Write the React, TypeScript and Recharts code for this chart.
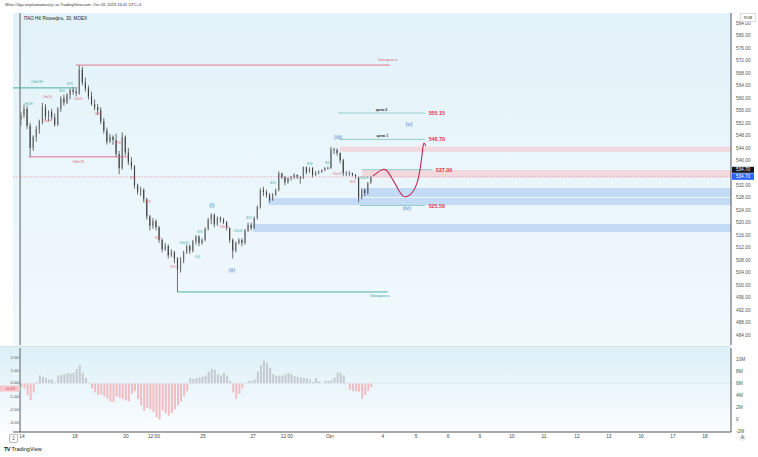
import React from "react";
import {
  ComposedChart,
  Bar,
  Line,
  XAxis,
  YAxis,
  ReferenceLine,
  ReferenceArea,
  ReferenceDot,
  Cell,
} from "recharts";

const FONT = '"Liberation Sans", Arial, sans-serif';
const TEAL = "#3aa89c";
const RED = "#e0697a";
const WAVE = "#4a7bd0";
const INK = "#4b4b4b";

// 30m candles, Sep 14 -> Oct 3 (o, h, l, c)
const CANDLES: [number, number, number, number][] = [
  [553, 555.5, 551, 554.5], [554.5, 557.8, 553.5, 556.5], [556.5, 557.5, 550, 551], [551, 552, 541, 544],
  [544, 548, 543, 547.5], [547.5, 551, 546, 550], [550, 553, 548.5, 552.5], [552.5, 558.4, 551.5, 557],
  [557, 558, 553, 554], [554, 556, 552.5, 555.5], [555.5, 556.5, 553, 553.8], [553.8, 555, 550.8, 551.5],
  [551.5, 557, 551, 556.5], [556.5, 560.5, 555.5, 559.8], [559.8, 561, 557.5, 558.5], [558.5, 561.5, 558, 561],
  [561, 563, 559.5, 562.5], [562.5, 563.5, 561, 562], [562, 563.5, 560.5, 561.5], [561.5, 570.5, 561, 569],
  [569, 570, 564, 565], [565, 566.5, 562, 563], [563, 564, 559.5, 560.5], [560.5, 562, 557.5, 558],
  [558, 559.5, 556, 557], [557, 558, 554.5, 556], [556, 557, 551.5, 552.5], [552.5, 553.5, 548.5, 549.5],
  [549.5, 550.5, 545, 546], [546, 548.5, 545.5, 547.5], [547.5, 548, 545, 546.5], [546.5, 548.5, 541, 542],
  [542, 543, 535.5, 537.5], [537.5, 549, 537, 547.5], [547.5, 548, 541.5, 542.5], [542.5, 544, 538.5, 539.5],
  [539.5, 541, 537, 538], [538, 538.5, 531, 532], [532, 532.5, 529, 530], [530, 531.5, 528.5, 530.5],
  [530.5, 531, 526.5, 527.5], [527.5, 528, 521, 522], [522, 522.5, 517.5, 519], [519, 521.5, 518, 520.5],
  [520.5, 521, 517.5, 518.5], [518.5, 519, 513.5, 514.5], [514.5, 515, 510.5, 511.5], [511.5, 513.5, 511, 512.5],
  [512.5, 513, 508.5, 509.5], [509.5, 511.5, 509, 510.5], [510.5, 511, 507, 508.5], [508.5, 509, 497.8, 505],
  [505, 509, 504, 508], [508, 511, 507, 510.5], [510.5, 513, 510, 512.5], [512.5, 513, 510, 511],
  [511, 514.5, 510.5, 514], [514, 516, 513, 515.5], [515.5, 516, 512.5, 513.5], [513.5, 515, 513, 514.5],
  [514.5, 518.5, 514, 518], [518, 521.5, 517.5, 521], [521, 523, 519.5, 522.5], [522.5, 523, 518.5, 519.5],
  [519.5, 522, 519, 521.5], [521.5, 522, 520, 521], [521, 521.5, 519.5, 520.2], [520.2, 520.5, 517.5, 518.3],
  [518.3, 518.5, 513.5, 514.5], [514.5, 515, 508.5, 511], [511, 514, 510.5, 513.5], [513.5, 515, 513, 514.4],
  [514.4, 515, 512.5, 513.5], [513.5, 518, 513, 517.5], [517.5, 520, 517, 519.3], [519.3, 520, 517.5, 518.3],
  [518.3, 522, 518, 521.5], [521.5, 525.5, 521, 525], [525, 531, 524.5, 530.5], [530.5, 531.5, 528.5, 529.8],
  [529.8, 530.5, 528, 528.9], [528.9, 529.5, 526.5, 527.3], [527.3, 529.5, 527, 528.9], [528.9, 531, 528.5, 530.5],
  [530.5, 536.5, 530, 535.8], [535.8, 536, 534, 534.6], [534.6, 535, 532, 533], [533, 534.5, 532.5, 534.3],
  [534.3, 535, 533.5, 534.6], [534.6, 535.8, 534, 535.3], [535.3, 535.5, 534, 534.6], [534.6, 535, 532.5, 534.3],
  [534.3, 538, 534, 537.8], [537.8, 538, 535.5, 536.2], [536.2, 537.8, 536, 537.5], [537.5, 537.8, 534.5, 535.3],
  [535.3, 536.5, 535, 536.2], [536.2, 536.8, 535.5, 536.2], [536.2, 537, 536, 536.9], [536.9, 537.8, 536.5, 537.5],
  [537.5, 538, 537, 537.5], [537.5, 544.3, 537.2, 543.5], [543.5, 544, 542, 543.3], [543.3, 543.8, 541.5, 542.3],
  [542.3, 542.5, 539, 540], [540, 540.5, 535, 535.9], [535.9, 536.5, 535, 535.9], [535.9, 536.5, 535, 535.9],
  [535.9, 536, 534.8, 535.3], [535.3, 535.6, 534, 534.6], [534.6, 534.8, 526.5, 528], [528, 531, 527.5, 530.5],
  [530.5, 531, 528.5, 529.5], [529.5, 533, 529, 532.7], [532.7, 535, 532.5, 534.7],
];

// oscillator, one value per candle
const OSC = [
  -0.3, -0.4, -0.9, -1.3, -0.7, 0.1, 0.6, 0.5, 0.4, 0.3, 0.3, 0.05, 0.6, 0.65, 0.7, 0.8, 0.75, 0.8, 1.1, 1.4,
  0.8, 0.4, 0.05, -0.4, -0.7, -0.9, -0.85, -1.0, -1.2, -1.4, -1.45, -1.0, -1.1, -1.2, -1.3, -1.4, -0.8, -0.6, -1.2, -1.7,
  -2.1, -1.9, -2.0, -2.2, -2.6, -2.8, -2.1, -2.3, -2.5, -2.3, -2.0, -1.7, -1.4, -1.0, -0.6, 0.4, 0.35, 0.4, 0.45, 0.5,
  0.6, 0.9, 1.1, 1.05, 0.7, 0.6, 0.8, 0.6, 0.2, -0.7, -1.2, -0.8, -0.4, 0.05, 0.2, 0.2, 0.3, 0.9, 1.4, 1.75,
  1.6, 1.2, 0.7, 0.6, 0.6, 0.6, 0.7, 0.8, 0.7, 0.55, 0.5, 0.45, 0.4, 0.4, 0.3, 0.1, 0.4, 0.15, 0.0, 0.2,
  0.2, 0.25, 0.45, 0.85, 0.8, 0.6, 0.05, -0.5, -0.6, -0.6, -0.65, -1.2, -0.9, -0.6, -0.3,
];

const TICK_POS = [0.3, 17.6, 34.2, 43.3, 59.3, 75.6, 86.6, 100.7, 117.9, 128.7, 139.1, 149.5, 159.9, 170.4, 181.1, 191.5, 202, 212.4, 222.8];
const TICK_LABELS = ["14", "18", "20", "12:00", "25", "27", "12:00", "Окт", "4", "5", "6", "9", "10", "11", "12", "13", "16", "17", "18"];
const PRICE_TICKS = [584, 580, 576, 572, 568, 564, 560, 556, 552, 548, 544, 540, 532, 528, 524, 520, 516, 512, 508, 504, 500, 496, 492, 488, 484];
const OSC_TICKS = [2, 1, 0, -1, -2, -3];
const VOL_TICKS = [-2, 0, 2, 4, 6, 8, 10];

const X_DOMAIN = [-2.6, 231.3];
const PRICE_DOMAIN = [480.8, 587.2];
const OSC_DOMAIN = [-3.75, 2.72];
const VOL_DOMAIN = [-2.05, 11.8];
const LAST_PRICE = 534.7;
const OSC_LAST = -0.22;

// projected path after (iv)
const PROJ_X = [114.7, 116.9, 118.9, 120.8, 122.5, 124.4, 126.7, 129.0, 130.3, 130.9, 131.3, 131.9];
const PROJ_Y = [535.0, 536.6, 536.9, 534.3, 531.4, 528.6, 528.9, 532.7, 539.1, 543.9, 545.5, 544.6];

// structure levels: price, from, to, side
const LEVELS: [number, number, number, string][] = [
  [570.5, 17.9, 120.2, "bear"],
  [563.2, -2.6, 17.6, "bull"],
  [541.1, 2.6, 34.9, "bear"],
  [497.8, 51.1, 119.5, "bull"],
];
const LEVEL_NOTES: [number, number, string, string][] = [
  [119.5, 572.0, "Ликвидность", "bear"],
  [5.2, 565.0, "CHoCH", "bull"],
  [18.6, 539.3, "CHoCH", "bear"],
  [116.9, 496.4, "Ликвидность", "bull"],
];

// targets: price, from, to, name
const TARGETS: [number, number, number, string][] = [
  [555.15, 103.3, 131.6, "цель 2"],
  [546.7, 103.9, 131.6, "цель 1"],
  [537.0, 111.1, 133.9, ""],
  [525.5, 110.4, 131.6, ""],
];

// zones: top, bottom, from, side
const ZONES: [number, number, number, string][] = [
  [544.3, 542.7, 103.9, "supply"],
  [536.9, 534.6, 111.1, "supply"],
  [531.1, 528.2, 111.1, "demand"],
  [527.9, 525.7, 80.5, "demand"],
  [519.6, 517.0, 75.6, "demand"],
];

const WAVES: [string, number, number][] = [
  ["(i)", 62.2, 525.7],
  ["(ii)", 68.7, 504.8],
  ["(iii)", 103.3, 547.5],
  ["(iv)", 125.7, 524.8],
  ["(v)", 126.4, 551.6],
];

const TAGS: [number, number, string, string][] = [
  [2.3, 558.0, "CHoCH", "bull"], [13.4, 561.9, "BOS", "bull"], [16.0, 564.4, "BOS", "bull"],
  [18.6, 559.6, "CHoCH", "bear"], [8.5, 560.0, "CHoCH", "bear"], [8.5, 552.3, "CHoCH", "bear"],
  [25.1, 554.8, "BOS", "bear"], [31.6, 545.5, "BOS", "bear"], [36.5, 534.3, "BOS", "bear"],
  [41.4, 526.6, "BOS", "bear"], [44.6, 514.8, "BOS", "bear"], [49.5, 505.5, "BOS", "bear"],
  [53.1, 513.2, "CHoCH", "bull"], [58.3, 516.7, "BOS", "bull"], [57.7, 508.7, "EQL", "bull"],
  [66.1, 518.3, "CHoCH", "bear"], [70.7, 517.3, "CHoCH", "bull"], [74.3, 521.2, "BOS", "bull"],
  [82.1, 532.7, "BOS", "bull"], [94.1, 538.8, "BOS", "bull"], [100, 539.1, "BOS", "bull"],
  [102.9, 535.3, "CHoCH", "bear"], [108.1, 533.0, "BOS", "bear"], [111.7, 534.3, "CHoCH", "bull"],
];

const candleData = CANDLES.map(([o, h, l, c], i) => ({ x: i, range: [l, h], o, h, l, c }));
const oscData = OSC.map((v, i) => ({ x: i, v }));
const projData = PROJ_X.map((x, i) => ({ x, p: PROJ_Y[i] }));
const sideColor = (s: string) => (s === "bear" ? RED : TEAL);

function Candle(props: any) {
  const { x, y, width, height, payload } = props;
  if (!payload || height == null || isNaN(y)) return null;
  const top = Math.min(y, y + height);
  const full = Math.abs(height);
  const k = full / (payload.h - payload.l || 1);
  const bodyTop = top + (payload.h - Math.max(payload.o, payload.c)) * k;
  const bodyH = Math.max(Math.abs(payload.o - payload.c) * k, 0.8);
  const cx = x + width / 2;
  return (
    <g>
      <line x1={cx} x2={cx} y1={top} y2={top + full} stroke={INK} strokeWidth={0.8} />
      <rect x={x} y={bodyTop} width={width} height={bodyH} fill={payload.c >= payload.o ? "#6c6c6c" : "#3f3f3f"} />
    </g>
  );
}

const textDot = (text: string, color: string, size: number, opts: any = {}) => (p: any) => (
  <text
    x={p.cx}
    y={p.cy}
    fill={color}
    fontSize={size}
    fontFamily={FONT}
    fontWeight={opts.bold ? 700 : 400}
    textAnchor={opts.anchor || "middle"}
    dominantBaseline="central"
  >
    {text}
  </text>
);

function PriceBadge(props: any) {
  const vb = props.viewBox;
  if (!vb) return null;
  const x = vb.x + vb.width + 1;
  return (
    <g fontFamily={FONT} fontSize={4.6}>
      <rect x={x} y={vb.y - 10} width={22} height={6} fill="#131722" />
      <text x={x + 11} y={vb.y - 7} fill="#fff" textAnchor="middle" dominantBaseline="central">534.70</text>
      <rect x={x} y={vb.y - 3.5} width={22} height={6.5} fill="#2962ff" />
      <text x={x + 11} y={vb.y - 0.2} fill="#fff" textAnchor="middle" dominantBaseline="central">534.70</text>
    </g>
  );
}

function OscBadge(props: any) {
  const vb = props.viewBox;
  if (!vb) return null;
  return (
    <g fontFamily={FONT} fontSize={4.4}>
      <rect x={vb.x - 13} y={vb.y - 0.6} width={20} height={6} fill="#f6c4ca" />
      <text x={vb.x - 3} y={vb.y + 2.4} fill="#d23a4e" textAnchor="middle" dominantBaseline="central">-0.22</text>
    </g>
  );
}

function OscTick(p: any) {
  if (!p.payload) return null;
  return (
    <text x={19} y={p.y - (p.payload.value === 0 ? 0.8 : 0)} fill="#555" fontSize={4.4} fontFamily={FONT} textAnchor="end" dominantBaseline="central">
      {Number(p.payload.value).toFixed(2)}
    </text>
  );
}

export default function App() {
  return (
    <div style={{ position: "absolute", left: 0, top: 0, width: 758, height: 457, background: "#fff", fontFamily: FONT, overflow: "hidden" }}>
      <div style={{ position: "absolute", left: 5, top: 2, fontSize: 4, color: "#333", whiteSpace: "nowrap" }}>
        Wise-Olga опубликовал(а) на TradingView.com, Окт 03, 2023 16:41 UTC+3
      </div>
      <div style={{ position: "absolute", left: 13, top: 13, width: 718, height: 333, background: "linear-gradient(#e3f3fa, #f1f9fc)" }} />
      <div style={{ position: "absolute", left: 0, top: 347, width: 731, height: 85, background: "linear-gradient(#dcf0f8, #fbfdfe)" }} />
      <div style={{ position: "absolute", left: 0, top: 346, width: 731, height: 1, background: "#d7e2e6" }} />
      <div style={{ position: "absolute", left: 24, top: 16, fontSize: 4.6, color: "#222", whiteSpace: "nowrap" }}>
        ПАО НК Роснефть, 30, MOEX
      </div>

      <div style={{ position: "absolute", left: 0, top: 0 }}>
        <ComposedChart width={758} height={346} data={candleData} margin={{ top: 13, right: 0, bottom: 1, left: 13 }}>
          <XAxis dataKey="x" type="number" domain={X_DOMAIN} hide allowDataOverflow />
          <YAxis
            orientation="right"
            width={27}
            domain={PRICE_DOMAIN}
            ticks={PRICE_TICKS}
            interval={0}
            allowDataOverflow
            tickFormatter={(v: number) => v.toFixed(2)}
            tick={{ fontSize: 4.8, fill: "#555", fontFamily: FONT }}
            tickLine={false}
            tickSize={3}
            tickMargin={2}
            axisLine={{ stroke: "#555" }}
          />
          {ZONES.map(([top, bottom, from, side], i) => (
            <ReferenceArea
              key={"z" + i}
              x1={from}
              x2={X_DOMAIN[1]}
              y1={bottom}
              y2={top}
              fill={side === "supply" ? "#f6cfd4" : "#bcd6f3"}
              fillOpacity={side === "supply" ? 0.75 : 0.85}
              stroke="none"
            />
          ))}
          <ReferenceLine x={-0.3} stroke="#7d7d7d" strokeWidth={1.3} />
          <ReferenceLine y={LAST_PRICE} stroke="#e79aa4" strokeDasharray="1.5 1.5" strokeWidth={0.8} label={<PriceBadge />} />
          {LEVELS.map(([p, from, to, side], i) => (
            <ReferenceLine key={"l" + i} segment={[{ x: from, y: p }, { x: to, y: p }]} stroke={sideColor(side)} strokeWidth={0.9} />
          ))}
          {TARGETS.map(([p, from, to], i) => (
            <ReferenceLine key={"t" + i} segment={[{ x: from, y: p }, { x: to, y: p }]} stroke="#7cc3bd" strokeWidth={0.8} />
          ))}
          <Bar dataKey="range" barSize={2} isAnimationActive={false} shape={<Candle />} />
          <Line
            data={projData}
            dataKey="p"
            type="natural"
            stroke="#c8285a"
            strokeWidth={1.1}
            dot={false}
            isAnimationActive={false}
          />
          {LEVEL_NOTES.map(([x, y, t, side], i) => (
            <ReferenceDot key={"n" + i} x={x} y={y} r={0} shape={textDot(t, sideColor(side), 3.4)} />
          ))}
          {TARGETS.map(([p, from, to, name], i) => (
            <React.Fragment key={"tt" + i}>
              {name && <ReferenceDot x={(from + to) / 2} y={p + 1.1} r={0} shape={textDot(name, "#222", 3.6, { bold: true })} />}
              <ReferenceDot x={to + 1.2} y={p} r={0} shape={textDot(p.toFixed(2), "#e0334e", 5.4, { bold: true, anchor: "start" })} />
            </React.Fragment>
          ))}
          {WAVES.map(([t, x, y], i) => (
            <ReferenceDot key={"w" + i} x={x} y={y} r={0} shape={textDot(t, WAVE, 6)} />
          ))}
          {TAGS.map(([x, y, t, side], i) => (
            <ReferenceDot key={"g" + i} x={x} y={y} r={0} shape={textDot(t, sideColor(side), 2.6)} />
          ))}
        </ComposedChart>
      </div>

      <div style={{ position: "absolute", left: 0, top: 346 }}>
        <ComposedChart width={758} height={100} data={oscData} margin={{ top: 2, right: 0, bottom: 2, left: 0 }}>
          <XAxis
            dataKey="x"
            type="number"
            domain={X_DOMAIN}
            allowDataOverflow
            ticks={TICK_POS}
            interval={0}
            height={12}
            tickFormatter={(v: number) => TICK_LABELS[TICK_POS.indexOf(v)] ?? ""}
            tick={{ fontSize: 4.8, fill: "#444", fontFamily: FONT }}
            tickLine={false}
            tickSize={0}
            tickMargin={3}
            axisLine={{ stroke: "#555", strokeWidth: 1.2 }}
          />
          <YAxis
            yAxisId="osc"
            orientation="left"
            width={13}
            domain={OSC_DOMAIN}
            ticks={OSC_TICKS}
            interval={0}
            allowDataOverflow
            tick={OscTick}
            tickLine={false}
            axisLine={false}
          />
          <YAxis
            yAxisId="vol"
            orientation="right"
            width={27}
            domain={VOL_DOMAIN}
            ticks={VOL_TICKS}
            interval={0}
            allowDataOverflow
            tickFormatter={(v: number) => (v === 0 ? "0" : `${v}M`)}
            tick={{ fontSize: 4.8, fill: "#555", fontFamily: FONT }}
            tickLine={false}
            tickSize={3}
            tickMargin={2}
            axisLine={{ stroke: "#555" }}
          />
          <ReferenceLine yAxisId="osc" y={0} stroke="#dfe6ea" strokeWidth={0.6} />
          <Bar yAxisId="osc" dataKey="v" barSize={2} isAnimationActive={false}>
            {oscData.map((d, i) => (
              <Cell key={i} fill={d.v >= 0 ? "#c4cacf" : "#f2bcc3"} />
            ))}
          </Bar>
          <ReferenceLine yAxisId="osc" x={-0.3} stroke="#7d7d7d" strokeWidth={1.3} />
          <ReferenceLine yAxisId="osc" y={OSC_LAST} stroke="none" label={<OscBadge />} />
        </ComposedChart>
      </div>

      <div style={{ position: "absolute", left: 740, top: 13, width: 14, height: 7, background: "#fff", border: "0.5px solid #ddd", fontSize: 4, color: "#333", textAlign: "center", lineHeight: "7px" }}>
        RUB
      </div>
      <div style={{ position: "absolute", left: 9, top: 434, width: 7, height: 7, border: "0.5px solid #bbb", borderRadius: 1, fontSize: 4.5, color: "#555", textAlign: "center", lineHeight: "7px" }}>
        2
      </div>
      <div style={{ position: "absolute", left: 739, top: 434, width: 7, height: 7, borderRadius: 4, background: "#eef0f2", fontSize: 4.5, color: "#555", textAlign: "center", lineHeight: "7px" }}>
        A
      </div>
      <div style={{ position: "absolute", left: 4, top: 446, fontSize: 5.5, color: "#131722", whiteSpace: "nowrap" }}>
        <b style={{ letterSpacing: -0.5 }}>TV</b> TradingView
      </div>
    </div>
  );
}
